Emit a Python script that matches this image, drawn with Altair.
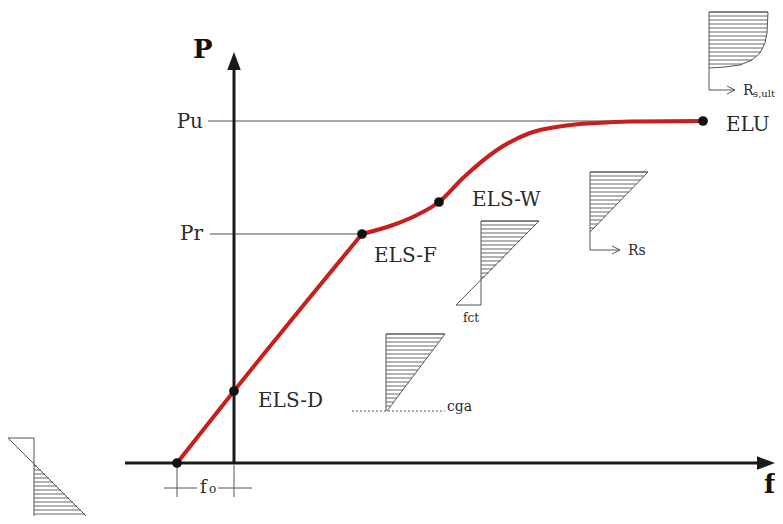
import numpy as np
import pandas as pd
import altair as alt

# ---------------- data (f = deflection units, P = load units, origin at axes crossing)
# load-deflection curve: straight branch and curved branch
line_f = [-57, 0, 128]
line_P = [0, 72, 229]
curve_f = [128, 159, 183, 205, 229, 263, 296, 329, 363, 396, 469]
curve_P = [229, 238, 248, 261, 285, 313, 330, 337, 340, 341.5, 342]

# marked states
state_f = [-57, 0, 128, 205, 469]
state_P = [0, 72, 229, 261, 342]

# reference load levels
level_names = ["Pu", "Pr"]
level_P = [342, 229]
level_f_start = [-26, -24]
level_f_end = [469, 128]

# state labels
label_text = ["ELS-D", "ELS-F", "ELS-W", "ELU"]
label_f = [24, 140, 238, 492]
label_P = [56, 201, 257, 332]

# axes extents
axis_f_min, axis_f_max = -109, 541
axis_P_max = 411

# stress diagrams (outline polygons)
elu_edge_f = [475, 534, 533, 531, 526, 518, 506, 491, 475]
elu_edge_P = [451, 451, 430, 420, 410, 403, 398, 396, 395]
rs_tri_f = [356, 414, 356]
rs_tri_P = [291, 291, 231]
fct_f = [247, 305, 222, 247]
fct_P = [242, 242, 158, 158]
cga_tri_f = [152, 211, 153]
cga_tri_P = [129, 129, 52]
bl_f = [-226, -200, -142]
bl_P = [25, 25, -59]

# ---------------- helpers
def seg(rows):
    return pd.DataFrame(rows, columns=["f", "P", "f2", "P2"])

def hatch(f_left, P_top, P_bot, ef, eP, step=4.0):
    order = np.argsort(eP)
    xp = np.array(eP, float)[order]
    fp = np.array(ef, float)[order]
    Ps = np.arange(P_top, P_bot, -step)
    right = np.interp(Ps, xp, fp)
    return pd.DataFrame({"f": f_left, "P": Ps, "f2": right, "P2": Ps})

X = dict(scale=alt.Scale(domain=[-226, 541], nice=False, zero=False), axis=None)
Y = dict(scale=alt.Scale(domain=[-53, 455], nice=False, zero=False), axis=None)

def rule_layer(df, color, width, dash=None):
    kw = dict(color=color, strokeWidth=width)
    if dash:
        kw["strokeDash"] = dash
    return alt.Chart(df).mark_rule(**kw).encode(
        x=alt.X("f:Q", **X), y=alt.Y("P:Q", **Y), x2="f2:Q", y2="P2:Q")

# ---------------- segments
axes_df = seg([[axis_f_min, 0, axis_f_max - 6, 0], [0, 0, 0, axis_P_max - 6]])

levels_df = pd.DataFrame({"f": level_f_start, "P": level_P, "f2": level_f_end, "P2": level_P})

outline_rows = []
# ELU diagram
outline_rows += [[475, 451, 475, 373]]
for i in range(len(elu_edge_f) - 1):
    outline_rows.append([elu_edge_f[i], elu_edge_P[i], elu_edge_f[i + 1], elu_edge_P[i + 1]])
outline_rows += [[475, 373, 501, 373], [493, 377, 501, 373], [493, 369, 501, 373]]
# Rs diagram
outline_rows += [[356, 291, 356, 213], [356, 291, 414, 291], [414, 291, 356, 231],
                 [356, 213, 386, 213], [378, 217, 386, 213], [378, 209, 386, 213]]
# fct diagram
outline_rows += [[247, 242, 247, 158], [247, 242, 305, 242], [305, 242, 222, 158], [222, 158, 247, 158]]
# cga diagram
outline_rows += [[152, 129, 152, 52], [152, 129, 211, 129], [211, 129, 153, 52]]
# bottom-left diagram
outline_rows += [[-226, 25, -200, 25], [-200, 25, -200, -61], [-226, 25, -140, -61]]
# f0 dimension
outline_rows += [[-57, -4, -57, -34], [0, -2, 0, -34], [-70, -25, -37, -25], [-16, -25, 18, -25]]
outline_df = seg(outline_rows)

hatch_df = pd.concat([
    hatch(475, 451, 394, elu_edge_f[1:], elu_edge_P[1:]),
    hatch(356, 291, 231, rs_tri_f[1:], rs_tri_P[1:]),
    hatch(247, 242, 182, [305, 247], [242, 182]),
    hatch(152, 129, 53, cga_tri_f[1:], cga_tri_P[1:]),
    hatch(-200, -3, -62, [-200, -138], [0, -62]),
])

dotted_df = seg([[118, 52, 211, 52]])

# ---------------- layers
ink = "#1a1a1a"
grey = "#555555"

axes = rule_layer(axes_df, ink, 3)
levels = rule_layer(levels_df, "#8a8a8a", 1.3)
outlines = rule_layer(outline_df, grey, 1)
hatches = rule_layer(hatch_df, grey, 0.9)
dotted = rule_layer(dotted_df, grey, 1, [2, 2])

arrow_df = pd.DataFrame({"f": [0, axis_f_max - 9], "P": [axis_P_max - 9, 0],
                         "shape": ["M-0.75,1L0,-1L0.75,1Z", "M-1,-0.75L1,0L-1,0.75Z"]})
arrows = alt.Chart(arrow_df).mark_point(filled=True, color=ink, opacity=1, size=324).encode(
    x=alt.X("f:Q", **X), y=alt.Y("P:Q", **Y), shape=alt.Shape("shape:N", scale=None))

line_df = pd.concat([
    pd.DataFrame({"f": line_f, "P": line_P, "branch": "a"}),
    pd.DataFrame({"f": curve_f, "P": curve_P, "branch": "b"}),
])
curve = alt.Chart(line_df).mark_line(color="#c81e1e", strokeWidth=4, interpolate="monotone",
                                     strokeCap="round", strokeJoin="round").encode(
    x=alt.X("f:Q", **X), y=alt.Y("P:Q", **Y), detail="branch:N", order="f:Q")

dots = alt.Chart(pd.DataFrame({"f": state_f, "P": state_P})).mark_circle(
    color="#111111", opacity=1, size=95).encode(x=alt.X("f:Q", **X), y=alt.Y("P:Q", **Y))

serif = "DejaVu Serif"
txt_left = pd.DataFrame({
    "f": label_f + [509, 519, 394, 229, 213, -34, -25],
    "P": label_P + [368, 366, 208, 141, 52, -30, -30],
    "t": label_text + ["R", "s,ult", "Rs", "fct", "cga", "f", "o"],
    "s": [20, 20, 20, 20, 14, 10, 14, 12, 14, 18, 12],
})
texts_left = alt.Chart(txt_left).mark_text(align="left", baseline="alphabetic", font=serif,
                                           color="#2a2a2a").encode(
    x=alt.X("f:Q", **X), y=alt.Y("P:Q", **Y), text="t:N", size=alt.Size("s:Q", scale=None))

txt_right = pd.DataFrame({"f": [-31, -31], "P": [335, 223], "t": level_names})
texts_right = alt.Chart(txt_right).mark_text(align="right", baseline="alphabetic", font=serif,
                                             fontSize=20, color="#2a2a2a").encode(
    x=alt.X("f:Q", **X), y=alt.Y("P:Q", **Y), text="t:N")

txt_bold = pd.DataFrame({"f": [-41, 530], "P": [405, -30], "t": ["P", "f"]})
texts_bold = alt.Chart(txt_bold).mark_text(align="left", baseline="alphabetic", font=serif,
                                           fontSize=26, fontWeight="bold", color="#111111").encode(
    x=alt.X("f:Q", **X), y=alt.Y("P:Q", **Y), text="t:N")

chart = alt.layer(
    hatches, outlines, dotted, levels, axes, arrows, curve, dots,
    texts_left, texts_right, texts_bold,
).properties(
    width=767, height=508, padding=0, autosize=alt.AutoSizeParams(type="none"),
    background="white",
).configure_view(stroke=None)

chart.save("out.html", embed_options={"renderer": "svg", "actions": False})
